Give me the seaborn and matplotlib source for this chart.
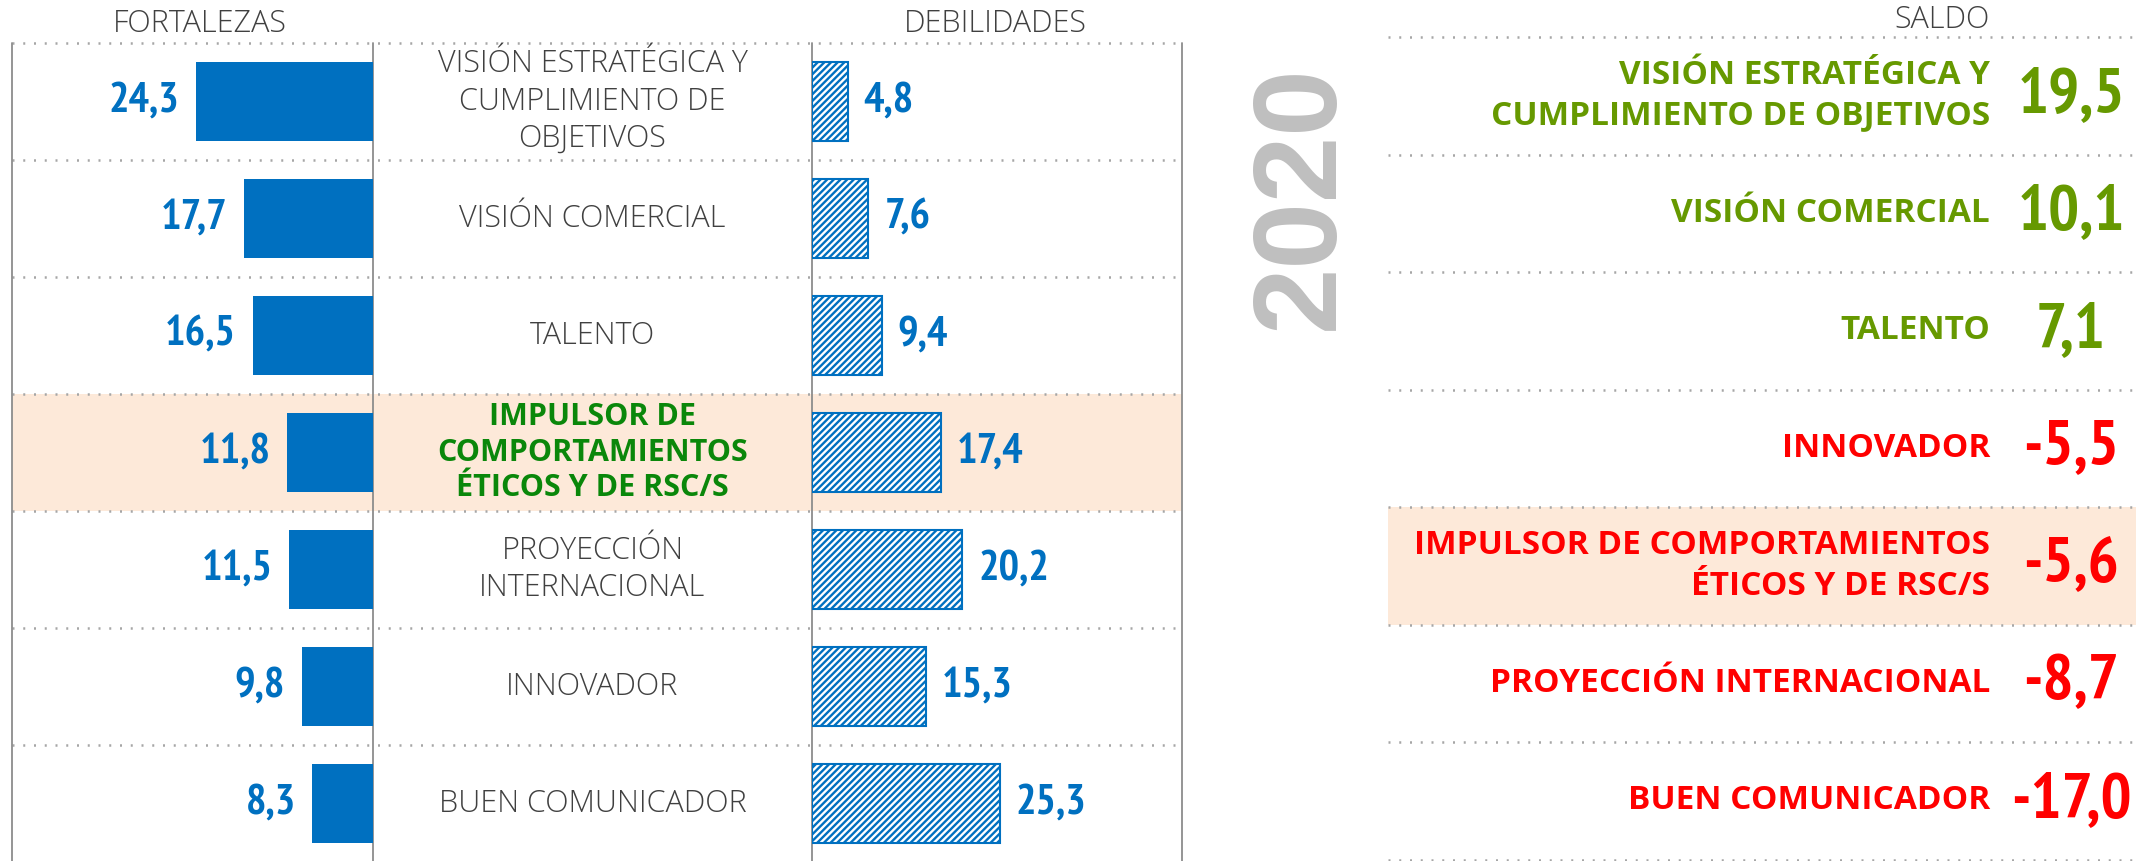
import os
import matplotlib.pyplot as plt
from matplotlib import font_manager as fm
import seaborn as sns
import pandas as pd

# --- data ---
categories = [
    "VISIÓN ESTRATÉGICA Y\nCUMPLIMIENTO DE\nOBJETIVOS",
    "VISIÓN COMERCIAL",
    "TALENTO",
    "IMPULSOR DE\nCOMPORTAMIENTOS\nÉTICOS Y DE RSC/S",
    "PROYECCIÓN\nINTERNACIONAL",
    "INNOVADOR",
    "BUEN COMUNICADOR",
]
fortalezas = [24.3, 17.7, 16.5, 11.8, 11.5, 9.8, 8.3]
debilidades = [4.8, 7.6, 9.4, 17.4, 20.2, 15.3, 25.3]
highlight_cat = 3

saldo_labels = [
    "VISIÓN ESTRATÉGICA Y\nCUMPLIMIENTO DE OBJETIVOS",
    "VISIÓN COMERCIAL",
    "TALENTO",
    "INNOVADOR",
    "IMPULSOR DE COMPORTAMIENTOS\nÉTICOS Y DE RSC/S",
    "PROYECCIÓN INTERNACIONAL",
    "BUEN COMUNICADOR",
]
saldo_values = [19.5, 10.1, 7.1, -5.5, -5.6, -8.7, -17.0]
highlight_saldo = 4
year = "2020"

BLUE = "#0070C0"
GRID = "#A6A6A6"
VLINE = "#8C8C8C"
TEXT = "#404040"
BAND = "#FDE9D9"
GREEN_MID = "#0A870A"
GREEN = "#669900"
RED = "#FF0000"

LABEL_FONT = ["Open Sans", "DejaVu Sans"]

sns.set_style("white")
plt.rcParams["font.family"] = LABEL_FONT
plt.rcParams["hatch.linewidth"] = 1.7
plt.rcParams["hatch.color"] = BLUE


# numbers use a narrow bold face if one is installed
def _weight(e):
    w = e.weight
    if isinstance(w, str):
        w = {"bold": 700, "heavy": 800, "black": 900, "semibold": 600,
             "demibold": 600, "extra bold": 800, "ultrabold": 800}.get(w.lower(), 400)
    return w


def _narrowness(e):
    base = os.path.basename(e.fname).lower()
    name = e.name.lower()
    if "narrow" in name or "narrow" in base:
        return 0
    if e.stretch in ("extra-condensed", "ultra-condensed"):
        return 1
    if e.stretch == "condensed" or "condensed" in name or "cond" in base:
        return 2
    if e.stretch == "semi-condensed" or "semicondensed" in base:
        return 3
    return None


cands = []
for e in fm.fontManager.ttflist:
    r = _narrowness(e)
    if r is not None and _weight(e) >= 600 and e.style == "normal":
        cands.append((r, abs(_weight(e) - 700), e.fname))
cands.sort()
if cands:
    NUM_FILE = cands[0][2]
    NUM_SCALE = 1.0
else:
    NUM_FILE = fm.findfont(fm.FontProperties(family="DejaVu Sans", weight="bold"))
    NUM_SCALE = 0.78


def num_font(size):
    return fm.FontProperties(fname=NUM_FILE, size=size * NUM_SCALE)


W, H = 2136, 861
fig = plt.figure(figsize=(W / 100, H / 100), dpi=100)


def px_axes(x0, y0, x1, y1):
    return fig.add_axes([x0 / W, 1 - y1 / H, (x1 - x0) / W, (y1 - y0) / H])


def fmt(v):
    return f"{v:.1f}".replace(".", ",")


def dotted(ax, y, x0, x1):
    ax.plot([x0, x1], [y, y], color=GRID, lw=1.8, linestyle=(0, (0.8, 3.5)),
            dash_capstyle="butt", clip_on=False)


n = len(categories)

# --- left block: background grid, band and middle labels ---
top, row_h = 43, 117
ax_bg = px_axes(12, top, 1182, top + n * row_h)
ax_bg.set_xlim(12, 1182)
ax_bg.set_ylim(n - 0.5, -0.5)
ax_bg.axis("off")
ax_bg.axhspan(highlight_cat - 0.5, highlight_cat + 0.5, color=BAND, lw=0)
for k in range(n + 1):
    dotted(ax_bg, k - 0.5, 12, 1182)
for xv in [12, 373, 812, 1182]:
    ax_bg.plot([xv, xv], [-0.5, n - 0.5], color=VLINE, lw=1.3, clip_on=False)
for i, cat in enumerate(categories):
    if i == highlight_cat:
        ax_bg.text(592.5, i, cat, ha="center", va="center", fontsize=22,
                   fontweight="bold", color=GREEN_MID, linespacing=1.22)
    else:
        ax_bg.text(592.5, i, cat, ha="center", va="center", fontsize=22,
                   fontweight="light", color=TEXT, linespacing=1.22)

df = pd.DataFrame({"cat": categories, "fort": fortalezas, "deb": debilidades})

# fortalezas (solid, growing left)
ax_f = px_axes(12, top, 373, top + n * row_h)
sns.barplot(data=df, x="fort", y="cat", orient="h", color=BLUE, saturation=1,
            width=0.68, edgecolor="none", ax=ax_f)
ax_f.set_xlim(49.5, 0)
ax_f.set_ylim(n - 0.5, -0.5)
ax_f.axis("off")
for i, v in enumerate(fortalezas):
    ax_f.annotate(fmt(v), xy=(v, i), xytext=(-12, 0), textcoords="offset points",
                  ha="right", va="center", color=BLUE, fontproperties=num_font(31))

# debilidades (hatched, growing right)
ax_d = px_axes(812, top, 1182, top + n * row_h)
sns.barplot(data=df, x="deb", y="cat", orient="h", color="white", saturation=1,
            width=0.68, edgecolor=BLUE, linewidth=1.5, hatch="/////", ax=ax_d)
ax_d.set_xlim(0, 49.8)
ax_d.set_ylim(n - 0.5, -0.5)
ax_d.axis("off")
for i, v in enumerate(debilidades):
    ax_d.annotate(fmt(v), xy=(v, i), xytext=(11.5, 0), textcoords="offset points",
                  ha="left", va="center", color=BLUE, fontproperties=num_font(31))

fig.text(200 / W, 1 - 24 / H, "FORTALEZAS", ha="center", va="center",
         fontsize=22, fontweight="light", color=TEXT)
fig.text(995 / W, 1 - 24 / H, "DEBILIDADES", ha="center", va="center",
         fontsize=22, fontweight="light", color=TEXT)

# --- year ---
fig.text(1302 / W, 1 - 197 / H, year, rotation=90, ha="center", va="center",
         fontsize=86, fontweight="bold", color="#BFBFBF",
         family=["Liberation Sans", "DejaVu Sans"])

# --- right block: saldo ---
rtop, rrow = 37, 117.5
ax_r = px_axes(1388, rtop, W, rtop + n * rrow)
ax_r.set_xlim(1388, W)
ax_r.set_ylim(n - 0.5, -0.5)
ax_r.axis("off")
ax_r.axhspan(highlight_saldo - 0.5, highlight_saldo + 0.5, color=BAND, lw=0)
for k in range(n + 1):
    dotted(ax_r, k - 0.5, 1388, W)
for i, (lab, v) in enumerate(zip(saldo_labels, saldo_values)):
    c = GREEN if v >= 0 else RED
    ax_r.text(1990, i, lab, ha="right", va="center", fontsize=24,
              fontweight="bold", color=c, linespacing=1.3)
    ax_r.text(2071, i, fmt(v), ha="center", va="center", color=c,
              fontproperties=num_font(47))

fig.text(1990 / W, 1 - 20 / H, "SALDO", ha="right", va="center",
         fontsize=22, fontweight="light", color=TEXT)

fig.savefig("out.png", dpi=100)
